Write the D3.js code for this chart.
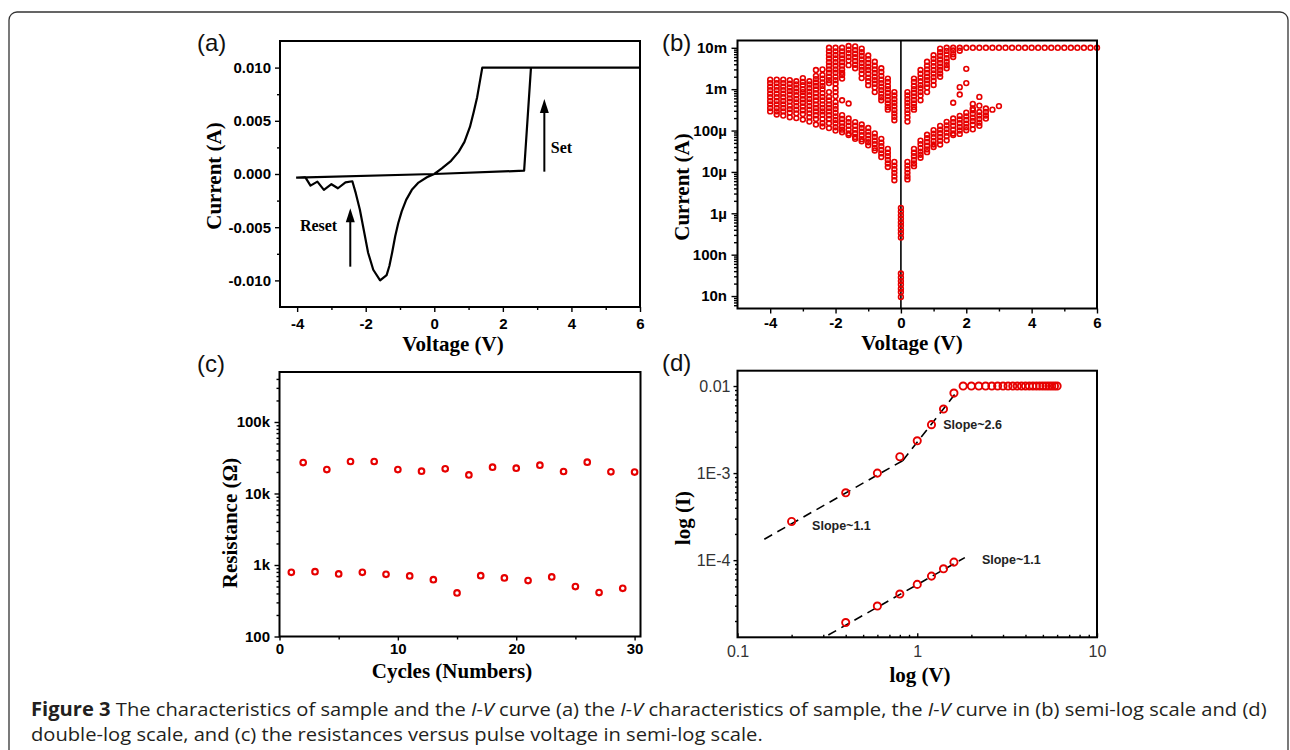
<!DOCTYPE html>
<html>
<head>
<meta charset="utf-8">
<script src="https://cdnjs.cloudflare.com/ajax/libs/d3/7.8.5/d3.min.js"></script>
<style>
body { margin:0; background:#fff; }
text { white-space: pre; }
</style>
</head>
<body>
<div id="chart-area"></div>
<script>
// ---------- (a) I-V curve, one sweep ----------
var ivV = [-4.0, 0, 2.62, 2.82, 6.0, 1.40, 1.25, 1.15, 1.04, 0.88, 0.71, 0.49, 0.22, 0,
    -0.215, -0.46, -0.655, -0.82, -0.95, -1.05, -1.14, -1.23, -1.31, -1.39, -1.58,
    -1.78, -1.93, -2.04, -2.17, -2.29, -2.39, -2.59, -2.81, -3.00, -3.22, -3.41, -3.61, -3.76, -4.03];
var ivI = [-0.00034, 0, 0.00031, 0.01, 0.01, 0.01, 0.00722, 0.00582, 0.00442, 0.00302, 0.00208, 0.00124, 0.00053, 0,
    -0.00031, -0.00081, -0.00149, -0.00243, -0.00351, -0.0046, -0.00585, -0.0074, -0.00865, -0.0095, -0.0100,
    -0.0090, -0.0074, -0.00554, -0.00336, -0.0018, -0.00068, -0.00078, -0.00134, -0.00096, -0.00149, -0.00072, -0.00109, -0.00031, -0.00034];
var aXTicks = [-4, -2, 0, 2, 4, 6];
var aXLabels = ["-4", "-2", "0", "2", "4", "6"];
var aXMinor = [-3, -1, 1, 3, 5];
var aYTicks = [-0.01, -0.005, 0, 0.005, 0.01];
var aYLabels = ["-0.010", "-0.005", "0.000", "0.005", "0.010"];
var aYMinor = [-0.0075, -0.0025, 0.0025, 0.0075];
var arrowV = [-2.45, 3.21];
var arrowFrom = [-0.00871, 0.00022];
var arrowTo = [-0.00322, 0.00705];
var noteV = [-3.92, 3.40];
var noteI = [-0.00533, 0.0020];
var noteText = ["Reset", "Set"];

// ---------- (b) semi-log I-V, many cycles (current in uA) ----------
var bV = [-4.0, -3.8, -3.6, -3.4, -3.2, -3.0, -2.8, -2.6, -2.4, -2.2, -2.0, -1.8, -1.6, -1.4, -1.2, -1.0, -0.8, -0.6, -0.4, -0.2,
    0, 0.2, 0.4, 0.6, 0.8, 1.0, 1.2, 1.4, 1.6, 1.8, 2.0, 2.2, 2.4, 2.6, 2.8, 3.0,
    3.2, 3.4, 3.6, 3.8, 4.0, 4.2, 4.4, 4.6, 4.8, 5.0, 5.2, 5.4, 5.6, 5.8, 6.0];
var bI = [
    [1700, 1400, 1150, 950, 780, 640, 520, 430, 350, 290],
    [1700, 1400, 1150, 950, 780, 640, 520, 430, 350, 290, 245],
    [1700, 1400, 1150, 950, 780, 640, 520, 430, 350, 290, 230],
    [1650, 1350, 1100, 900, 740, 600, 500, 400, 330, 270, 210],
    [1550, 1300, 1050, 870, 710, 580, 480, 390, 320, 260, 200],
    [1850, 1500, 1250, 1000, 850, 700, 570, 470, 380, 310, 250, 185],
    [1550, 1300, 1050, 870, 710, 580, 480, 390, 320, 260, 210, 165],
    [2900, 2100, 1750, 1450, 1200, 980, 800, 650, 530, 430, 350, 290, 235, 190, 140],
    [3000, 2200, 1800, 1450, 1200, 1000, 800, 650, 530, 430, 350, 290, 240, 190, 150, 125],
    [10000, 8200, 6700, 5500, 4500, 3700, 3000, 2500, 2000, 1650, 1400, 850, 650, 530, 430, 350, 290, 235, 190, 150, 115],
    [10000, 8200, 6700, 5500, 4500, 3700, 3000, 2500, 2000, 1650, 1350, 1050, 850, 680, 490, 400, 330, 270, 220, 180, 150, 120, 100],
    [10000, 8200, 6700, 5500, 4500, 3700, 3000, 2500, 2200, 1800, 540, 235, 190, 155, 125, 105, 91],
    [11000, 9000, 7400, 6000, 4900, 3800, 450, 195, 160, 130, 105, 85, 78],
    [10800, 8800, 7200, 5900, 4800, 3900, 3200, 160, 130, 105, 86, 70, 63],
    [9500, 7800, 6400, 5200, 4300, 3500, 2900, 2350, 1850, 140, 115, 94, 77, 62, 55],
    [6500, 5300, 4300, 3500, 2900, 2350, 1900, 1550, 1250, 115, 94, 77, 63, 52, 44],
    [4600, 3700, 3000, 2450, 2000, 1650, 1350, 1100, 850, 85, 70, 57, 47, 38, 33],
    [3200, 2600, 2100, 1700, 1400, 1150, 950, 780, 640, 540, 63, 51, 42, 34, 28, 23],
    [1800, 1500, 1200, 1000, 820, 670, 550, 450, 370, 320, 36, 29, 24, 19.5, 16, 13.2],
    [850, 700, 570, 470, 385, 315, 260, 215, 178, 17.4, 14.2, 11.6, 9.5, 7.8, 6.3],
    [1.35, 1.1, 0.9, 0.74, 0.6, 0.5, 0.4, 0.33, 0.26, 0.035, 0.028, 0.023, 0.019, 0.015, 0.0125, 0.0095],
    [850, 700, 570, 470, 385, 315, 260, 210, 165, 17.4, 14.2, 11.6, 9.5, 7.8, 6.6],
    [1800, 1500, 1200, 1000, 820, 670, 550, 450, 370, 320, 36, 29, 24, 19.5, 16, 13.8],
    [2900, 2350, 1900, 1550, 1250, 1050, 850, 700, 540, 57, 47, 38, 31, 26, 22],
    [4600, 3700, 3000, 2450, 2000, 1650, 1350, 1100, 850, 79, 65, 53, 43, 35, 30],
    [6600, 5400, 4400, 3600, 2900, 2400, 1950, 1600, 1260, 102, 84, 69, 56, 46, 40],
    [9500, 7800, 6400, 5200, 4300, 3500, 2900, 2400, 2000, 129, 105, 86, 70, 57, 46],
    [10000, 8400, 6900, 5600, 4600, 3800, 3200, 162, 133, 109, 89, 73, 58],
    [10000, 8600, 7000, 6000, 470, 195, 160, 130, 105, 85, 78],
    [10000, 8500, 1120, 740, 225, 185, 150, 122, 100, 83],
    [10000, 3100, 1400, 270, 220, 180, 147, 120, 102],
    [10000, 440, 340, 310, 255, 205, 170, 138, 107],
    [10000, 650, 400, 280, 230, 190, 155, 130],
    [10000, 340, 280, 230, 195],
    [10000, 320],
    [10000, 390],
    [10000], [10000], [10000], [10000], [10000], [10000], [10000], [10000],
    [10000], [10000], [10000], [10000], [10000], [10000], [10000]
];
var bXTicks = [-4, -2, 0, 2, 4, 6];
var bXLabels = ["-4", "-2", "0", "2", "4", "6"];
var bXMinor = [-3, -1, 1, 3, 5];
var bYTicks = [1e-8, 1e-7, 1e-6, 1e-5, 1e-4, 1e-3, 1e-2];
var bYLabels = ["10n", "100n", "1\u00b5", "10\u00b5", "100\u00b5", "1m", "10m"];

// ---------- (c) resistance vs cycles ----------
var cycHigh = [2, 4, 6, 8, 10, 12, 14, 16, 18, 20, 22, 24, 26, 28, 30];
var resHigh = [27100, 21600, 28000, 28000, 21600, 20500, 22100, 18200, 23300, 22600, 24900, 20300, 27400, 20100, 19900];
var cycLow = [1, 3, 5, 7, 9, 11, 13, 15, 17, 19, 21, 23, 25, 27, 29];
var resLow = [790, 807, 749, 790, 741, 703, 624, 407, 710, 659, 605, 680, 499, 411, 472];
var cXTicks = [0, 10, 20, 30];
var cXLabels = ["0", "10", "20", "30"];
var cXMinor = [5, 15, 25];
var cYTicks = [100, 1000, 10000, 100000];
var cYLabels = ["100", "1k", "10k", "100k"];

// ---------- (d) double-log I-V ----------
var dV = [0.2, 0.4, 0.6, 0.8, 1.0, 1.2, 1.4, 1.6, 1.8, 2.0, 2.2, 2.4, 2.6, 2.8, 3.0, 3.2, 3.4, 3.6, 3.8, 4.0,
    4.2, 4.4, 4.6, 4.8, 5.0, 5.2, 5.4, 5.6, 5.8, 6.0];
var dI = [2.78e-4, 5.94e-4, 1.0e-3, 1.54e-3, 2.35e-3, 3.6e-3, 5.44e-3, 8.3e-3, 0.01, 0.01, 0.01, 0.01, 0.01, 0.01, 0.01,
    0.01, 0.01, 0.01, 0.01, 0.01, 0.01, 0.01, 0.01, 0.01, 0.01, 0.01, 0.01, 0.01, 0.01, 0.01];
var dVLow = [0.4, 0.6, 0.8, 1.0, 1.2, 1.4, 1.6];
var dILow = [1.92e-5, 2.97e-5, 4.08e-5, 5.27e-5, 6.56e-5, 7.96e-5, 9.5e-5];
var fitV = [[0.141, 0.83], [0.83, 1.65], [0.32, 1.84]];
var fitI = [[1.74e-4, 1.39e-3], [1.39e-3, 8.45e-3], [1.38e-5, 1.07e-4]];
var slopeV = [1.396, 0.26, 2.29];
var slopeI = [3.18e-3, 2.2e-4, 9.1e-5];
var slopeText = ["Slope~2.6", "Slope~1.1", "Slope~1.1"];
var dXTicks = [0.1, 1, 10];
var dXLabels = ["0.1", "1", "10"];
var dYTicks = [1e-4, 1e-3, 1e-2];
var dYLabels = ["1E-4", "1E-3", "0.01"];

var RED = "#e60000";
var boldFont = {family: "'Liberation Sans', Arial, sans-serif", weight: "bold", size: "15px", color: "#000"};
var plainFont = {family: "'Liberation Sans', Arial, sans-serif", weight: "normal", size: "16px", color: "#333"};
var serif = "'Liberation Serif', 'Times New Roman', serif";

var svg = d3.select("#chart-area").append("svg")
    .attr("width", 1290)
    .attr("height", 750)
    .style("display", "block");

// outer rounded border
svg.append("rect")
    .attr("x", 9).attr("y", 12)
    .attr("width", 1279).attr("height", 780)
    .attr("rx", 8)
    .attr("fill", "none")
    .attr("stroke", "#333")
    .attr("stroke-width", 1.3);

function frame(box) {
    svg.append("rect")
        .attr("x", box.left).attr("y", box.top)
        .attr("width", box.right - box.left)
        .attr("height", box.bottom - box.top)
        .attr("fill", "none")
        .attr("stroke", "#000")
        .attr("stroke-width", 2);
}

function axis(kind, scale, box, values, labels, size, pad, font) {
    var a = (kind == "left" ? d3.axisLeft(scale) : d3.axisBottom(scale))
        .tickValues(values)
        .tickSize(size)
        .tickPadding(pad)
        .tickFormat(function (d, i) { return labels ? labels[i] : ""; });
    var g = svg.append("g")
        .attr("transform", kind == "left" ? "translate(" + box.left + ",0)" : "translate(0," + box.bottom + ")")
        .call(a);
    g.select(".domain").remove();
    g.selectAll(".tick line").attr("stroke", "#000").attr("stroke-width", 1.4);
    g.selectAll(".tick text")
        .attr("font-family", font.family)
        .attr("font-weight", font.weight)
        .attr("font-size", font.size)
        .attr("fill", font.color);
    return g;
}

// minor ticks 2..9 of each decade inside a log scale
function logMinors(scale) {
    var dom = scale.domain(), out = [];
    for (var e = Math.floor(Math.log10(dom[0])); e <= Math.ceil(Math.log10(dom[1])); e++) {
        for (var k = 2; k <= 9; k++) {
            var v = k * Math.pow(10, e);
            if (v > dom[0] && v < dom[1]) out.push(v);
        }
    }
    return out;
}

function panelLabel(x, y, t) {
    svg.append("text")
        .attr("x", x).attr("y", y)
        .attr("font-family", "'Liberation Sans', Arial, sans-serif")
        .attr("font-size", "24px")
        .attr("fill", "#111")
        .text(t);
}

function xTitle(x, y, t) {
    svg.append("text")
        .attr("x", x).attr("y", y)
        .attr("text-anchor", "middle")
        .attr("font-family", serif)
        .attr("font-weight", "bold")
        .attr("font-size", "21px")
        .text(t);
}

function yTitle(x, y, t) {
    svg.append("text")
        .attr("transform", "translate(" + x + "," + y + ") rotate(-90)")
        .attr("text-anchor", "middle")
        .attr("font-family", serif)
        .attr("font-weight", "bold")
        .attr("font-size", "21px")
        .text(t);
}

// ================= (a) =================
var A = {left: 280, right: 640, top: 41, bottom: 307};
var ax = d3.scaleLinear().domain([-4.5, 6]).range([A.left, A.right]);
var ay = d3.scaleLinear().domain([-0.0125, 0.0125]).range([A.bottom, A.top]);

var ivLine = d3.line()
    .x(function (i) { return ax(ivV[i]); })
    .y(function (i) { return ay(ivI[i]); });
svg.append("path")
    .attr("d", ivLine(d3.range(ivV.length)))
    .attr("fill", "none")
    .attr("stroke", "#000")
    .attr("stroke-width", 2.2)
    .attr("stroke-linejoin", "round");

arrowV.forEach(function (v, i) {
    var x = ax(v), y0 = ay(arrowFrom[i]), y1 = ay(arrowTo[i]);
    svg.append("line")
        .attr("x1", x).attr("x2", x)
        .attr("y1", y0).attr("y2", y1 + 10)
        .attr("stroke", "#000").attr("stroke-width", 2);
    svg.append("path")
        .attr("d", "M" + x + "," + y1 + "L" + (x - 4.5) + "," + (y1 + 14) + "L" + (x + 4.5) + "," + (y1 + 14) + "Z")
        .attr("fill", "#000");
});
noteV.forEach(function (v, i) {
    svg.append("text")
        .attr("x", ax(v)).attr("y", ay(noteI[i]))
        .attr("font-family", serif)
        .attr("font-weight", "bold")
        .attr("font-size", "16px")
        .text(noteText[i]);
});

axis("bottom", ax, A, aXTicks, aXLabels, 5, 6, boldFont);
axis("bottom", ax, A, aXMinor, null, 3, 0, boldFont);
axis("left", ay, A, aYTicks, aYLabels, 5, 4, boldFont);
axis("left", ay, A, aYMinor, null, 3, 0, boldFont);
frame(A);
panelLabel(197, 51, "(a)");
xTitle(453, 351, "Voltage (V)");
yTitle(221, 176, "Current (A)");

// ================= (b) =================
var B = {left: 737.5, right: 1097, top: 40.5, bottom: 308.5};
var bx = d3.scaleLinear().domain([-5, 6]).range([B.left, B.right]);
var by = d3.scaleLog().domain([5e-9, 1.5e-2]).range([B.bottom, B.top]);

svg.append("line")
    .attr("x1", bx(0)).attr("x2", bx(0))
    .attr("y1", B.top).attr("y2", B.bottom)
    .attr("stroke", "#000").attr("stroke-width", 1.6);

var bPts = [];
bV.forEach(function (v, i) {
    bI[i].forEach(function (c) { bPts.push({v: v, i: c * 1e-6}); });
});
svg.append("g").selectAll("circle")
    .data(bPts)
    .enter()
    .append("circle")
    .attr("cx", function (d) { return bx(d.v); })
    .attr("cy", function (d) { return by(d.i); })
    .attr("r", 2.4)
    .attr("fill", "none")
    .attr("stroke", RED)
    .attr("stroke-width", 1.6);

axis("bottom", bx, B, bXTicks, bXLabels, 5, 4, boldFont);
axis("bottom", bx, B, bXMinor, null, 3, 0, boldFont);
axis("left", by, B, bYTicks, bYLabels, 6, 4.5, boldFont);
axis("left", by, B, logMinors(by), null, 3.5, 0, boldFont);
frame(B);
panelLabel(662, 51, "(b)");
xTitle(912, 350, "Voltage (V)");
yTitle(689, 187, "Current (A)");

// ================= (c) =================
var C = {left: 279.5, right: 640.5, top: 372, bottom: 636.5};
var cx = d3.scaleLinear().domain([0, 30.5]).range([C.left, C.right]);
var cy = d3.scaleLog().domain([100, 5e5]).range([C.bottom, C.top]);

function cDots(xs, ys) {
    svg.append("g").selectAll("circle")
        .data(xs)
        .enter()
        .append("circle")
        .attr("cx", function (d) { return cx(d); })
        .attr("cy", function (d, i) { return cy(ys[i]); })
        .attr("r", 2.8)
        .attr("fill", "#fff")
        .attr("stroke", RED)
        .attr("stroke-width", 2.1);
}
cDots(cycHigh, resHigh);
cDots(cycLow, resLow);

axis("bottom", cx, C, cXTicks, cXLabels, 4, 3, boldFont);
axis("bottom", cx, C, cXMinor, null, 3, 0, boldFont);
axis("left", cy, C, cYTicks, cYLabels, 5, 4.5, boldFont);
axis("left", cy, C, logMinors(cy), null, 3, 0, boldFont);
frame(C);
panelLabel(197, 372, "(c)");
xTitle(452, 678, "Cycles (Numbers)");
yTitle(237, 523, "Resistance (\u03a9)");

// ================= (d) =================
var D = {left: 737.5, right: 1097, top: 370.7, bottom: 637.3};
var dx = d3.scaleLog().domain([0.1, 10]).range([D.left, D.right]);
var dy = d3.scaleLog().domain([1.3e-5, 1.5e-2]).range([D.bottom, D.top]);

fitV.forEach(function (f, i) {
    svg.append("line")
        .attr("x1", dx(f[0])).attr("y1", dy(fitI[i][0]))
        .attr("x2", dx(f[1])).attr("y2", dy(fitI[i][1]))
        .attr("stroke", "#000")
        .attr("stroke-width", 1.6)
        .attr("stroke-dasharray", "9,6");
});

function dDots(xs, ys) {
    svg.append("g").selectAll("circle")
        .data(xs)
        .enter()
        .append("circle")
        .attr("cx", function (d) { return dx(d); })
        .attr("cy", function (d, i) { return dy(ys[i]); })
        .attr("r", 3.6)
        .attr("fill", "none")
        .attr("stroke", RED)
        .attr("stroke-width", 1.9);
}
dDots(dV, dI);
dDots(dVLow, dILow);

slopeV.forEach(function (v, i) {
    svg.append("text")
        .attr("x", dx(v)).attr("y", dy(slopeI[i]))
        .attr("font-family", "'Liberation Sans', Arial, sans-serif")
        .attr("font-weight", "bold")
        .attr("font-size", "12.5px")
        .attr("fill", "#222")
        .text(slopeText[i]);
});

axis("bottom", dx, D, dXTicks, dXLabels, -4, 8, plainFont);
axis("bottom", dx, D, logMinors(dx), null, -2.5, 0, plainFont);
axis("left", dy, D, dYTicks, dYLabels, 4, 3, plainFont);
axis("left", dy, D, logMinors(dy), null, 2.5, 0, plainFont);
frame(D);
panelLabel(662, 371, "(d)");
xTitle(920, 682, "log (V)");
yTitle(690, 518, "log (I)");

// ================= caption =================
var capFont = "'Open Sans', 'Noto Sans', sans-serif";
var capLines = [
    [["Figure 3", "bold", "normal"], [" The characteristics of sample and the ", "normal", "normal"], ["I-V", "normal", "italic"],
     [" curve (a) the ", "normal", "normal"], ["I-V", "normal", "italic"], [" characteristics of sample, the ", "normal", "normal"],
     ["I-V", "normal", "italic"], [" curve in (b) semi-log scale and (d)", "normal", "normal"]],
    [["double-log scale, and (c) the resistances versus pulse voltage in semi-log scale.", "normal", "normal"]]
];
var capNodes = capLines.map(function (line, li) {
    var t = svg.append("text")
        .attr("font-family", capFont)
        .attr("font-size", "19px")
        .attr("fill", "#231f20");
    line.forEach(function (s) {
        t.append("tspan")
            .attr("font-weight", s[1])
            .attr("font-style", s[2])
            .text(s[0]);
    });
    return t;
});
var capScale = (1267 - 31) / capNodes[0].node().getBBox().width;
capNodes.forEach(function (t, li) {
    t.attr("transform", "translate(31," + (716 + li * 25) + ") scale(" + capScale + ",1)");
});
</script>
</body>
</html>
